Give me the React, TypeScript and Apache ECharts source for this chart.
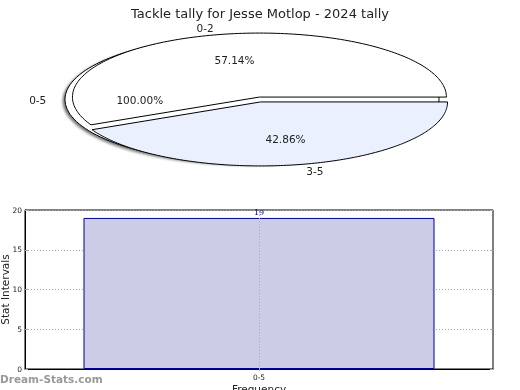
import React, { useEffect, useRef } from "react";
import * as echarts from "echarts";

const chartTitle = "Tackle tally for Jesse Motlop - 2024 tally";
const outerLabels = ["0-5"];
const outerCounts = [7];
const innerLabels = ["0-2", "3-5"];
const innerCounts = [4, 3];
const innerColors = ["#FFFFFF", "#EAF0FE"];
const barCategories = ["0-5"];
const barValues = [19];
const yTicks = [0, 5, 10, 15, 20];

const FONT = "DejaVu Sans";

type Slice = { name: string; value: number; total: number; start: number; color: string; explode: number; shadow: boolean };

function buildSlices(): Slice[] {
  const out: Slice[] = [];
  const oTotal = outerCounts.reduce((a, b) => a + b, 0);
  let acc = 0;
  outerLabels.forEach((n, i) => {
    out.push({ name: n, value: outerCounts[i], total: oTotal, start: acc, color: "#FFFFFF", explode: 8, shadow: true });
    acc += outerCounts[i];
  });
  const iTotal = innerCounts.reduce((a, b) => a + b, 0);
  acc = 0;
  innerLabels.forEach((n, i) => {
    out.push({ name: n, value: innerCounts[i], total: iTotal, start: acc, color: innerColors[i], explode: 2.5, shadow: false });
    acc += innerCounts[i];
  });
  return out;
}

export default function App() {
  const ref = useRef<HTMLDivElement>(null);
  useEffect(() => {
    if (!ref.current) return;
    const chart = echarts.init(ref.current, null, { renderer: "svg" });
    const slices = buildSlices();
    const baseCx = 260;
    const baseCy = 99.5;
    const rx = 187;
    const ry = 64;

    const geom = (idx: number, v: number) => {
      const s = slices[idx];
      const a0 = (s.start / s.total) * Math.PI * 2;
      const a1 = ((s.start + v) / s.total) * Math.PI * 2;
      const mid = (a0 + a1) / 2;
      const cx = baseCx + s.explode * Math.cos(mid);
      const cy = baseCy - s.explode * Math.sin(mid);
      return { s, a0, a1, mid, cx, cy };
    };

    const renderShape = (params: any, api: any) => {
      const { s, a0, a1, cx, cy } = geom(params.dataIndex, api.value(0));
      const pts: number[][] = [];
      const full = a1 - a0 >= Math.PI * 2 - 1e-6;
      if (!full) pts.push([cx, cy]);
      const steps = 160;
      for (let k = 0; k <= steps; k++) {
        const t = a0 + ((a1 - a0) * k) / steps;
        pts.push([cx + rx * Math.cos(t), cy - ry * Math.sin(t)]);
      }
      return {
        type: "polygon",
        shape: { points: pts },
        style: {
          fill: s.color,
          stroke: "#000",
          lineWidth: 1,
          shadowColor: s.shadow ? "rgba(0,0,0,0.5)" : "transparent",
          shadowBlur: s.shadow ? 2 : 0,
          shadowOffsetX: s.shadow ? -2 : 0,
          shadowOffsetY: s.shadow ? 1.5 : 0,
        },
      };
    };

    const renderLabel = (params: any, api: any) => {
      const { s, mid, cx, cy } = geom(params.dataIndex, api.value(0));
      const pct = ((api.value(0) / s.total) * 100).toFixed(2) + "%";
      const lx = cx + 1.1 * rx * Math.cos(mid);
      const ly = cy - 1.1 * ry * Math.sin(mid);
      const px = cx + 0.6 * rx * Math.cos(mid);
      const py = cy - 0.6 * ry * Math.sin(mid);
      return {
        type: "group",
        children: [
          {
            type: "text",
            x: px,
            y: py,
            style: { text: pct, fill: "#222", font: `10.5px ${FONT}`, align: "center", verticalAlign: "middle" },
          },
          {
            type: "text",
            x: lx,
            y: ly,
            style: {
              text: s.name,
              fill: "#222",
              font: `10.5px ${FONT}`,
              align: Math.cos(mid) < -1e-6 ? "right" : "left",
              verticalAlign: "middle",
            },
          },
        ],
      };
    };

    chart.setOption({
      animation: false,
      title: {
        text: chartTitle,
        left: "center",
        top: 2,
        textStyle: { fontFamily: FONT, fontSize: 13, fontWeight: "normal", color: "#222" },
      },
      graphic: [
        {
          type: "text",
          left: 0,
          top: 373,
          style: { text: "Dream-Stats.com", fill: "#999", font: `bold 10.5px ${FONT}` },
        },
      ],
      grid: {
        left: 25,
        right: 27,
        top: 210,
        bottom: 21,
        show: true,
        borderColor: "#000",
        borderWidth: 1,
        containLabel: false,
        outerBoundsMode: "none",
      },
      xAxis: {
        type: "category",
        data: barCategories,
        name: "Frequency",
        nameLocation: "middle",
        nameGap: 14,
        nameMoveOverlap: false,
        nameTextStyle: { fontFamily: FONT, fontSize: 10.5, color: "#222" },
        axisLine: { show: true, lineStyle: { color: "#000" } },
        axisTick: { show: true, inside: false, alignWithLabel: true, length: 2, lineStyle: { color: "#aaa" } },
        axisLabel: { fontFamily: FONT, fontSize: 7.5, color: "#222", margin: 4 },
        splitLine: { show: false },
      },
      yAxis: [
        {
          type: "value",
          min: yTicks[0],
          max: yTicks[yTicks.length - 1],
          interval: 5,
          name: "Stat Intervals",
          nameLocation: "middle",
          nameGap: 14.5,
          nameMoveOverlap: false,
          nameTextStyle: { fontFamily: FONT, fontSize: 10.5, color: "#222" },
          axisLine: { show: true, lineStyle: { color: "#000" } },
          axisTick: { show: true, inside: true, length: 3, lineStyle: { color: "#aaa" } },
          axisLabel: { fontFamily: FONT, fontSize: 7.5, color: "#222", margin: 3 },
          splitLine: { show: true, lineStyle: { color: "#aaa", type: [1, 2], width: 1 } },
        },
        {
          type: "value",
          position: "right",
          min: yTicks[0],
          max: yTicks[yTicks.length - 1],
          interval: 5,
          axisLine: { show: false },
          axisTick: { show: true, inside: true, length: 3, lineStyle: { color: "#aaa" } },
          axisLabel: { show: false },
          splitLine: { show: false },
        },
      ],
      series: [
        {
          type: "custom",
          coordinateSystem: "none",
          renderItem: renderShape,
          data: slices.map((s) => s.value),
          silent: true,
          z: 10,
        },
        {
          type: "custom",
          coordinateSystem: "none",
          renderItem: renderLabel,
          data: slices.map((s) => s.value),
          silent: true,
          z: 11,
        },
        {
          type: "bar",
          data: barValues,
          barWidth: "75%",
          itemStyle: { color: "#CCCCE6", borderColor: "#000099", borderWidth: 1 },
          label: {
            show: true,
            position: "top",
            distance: 1,
            color: "#000099",
            fontFamily: "DejaVu Serif",
            fontSize: 8,
          },
          markLine: {
            silent: true,
            symbol: "none",
            label: { show: false },
            lineStyle: { color: "#aaa", type: [1, 2], width: 1 },
            data: [{ xAxis: barCategories[0] }],
            z: 3,
          },
        },
      ],
    });
    return () => chart.dispose();
  }, []);
  return <div ref={ref} style={{ width: 520, height: 390, position: "fixed", left: 0, top: 0 }} />;
}
